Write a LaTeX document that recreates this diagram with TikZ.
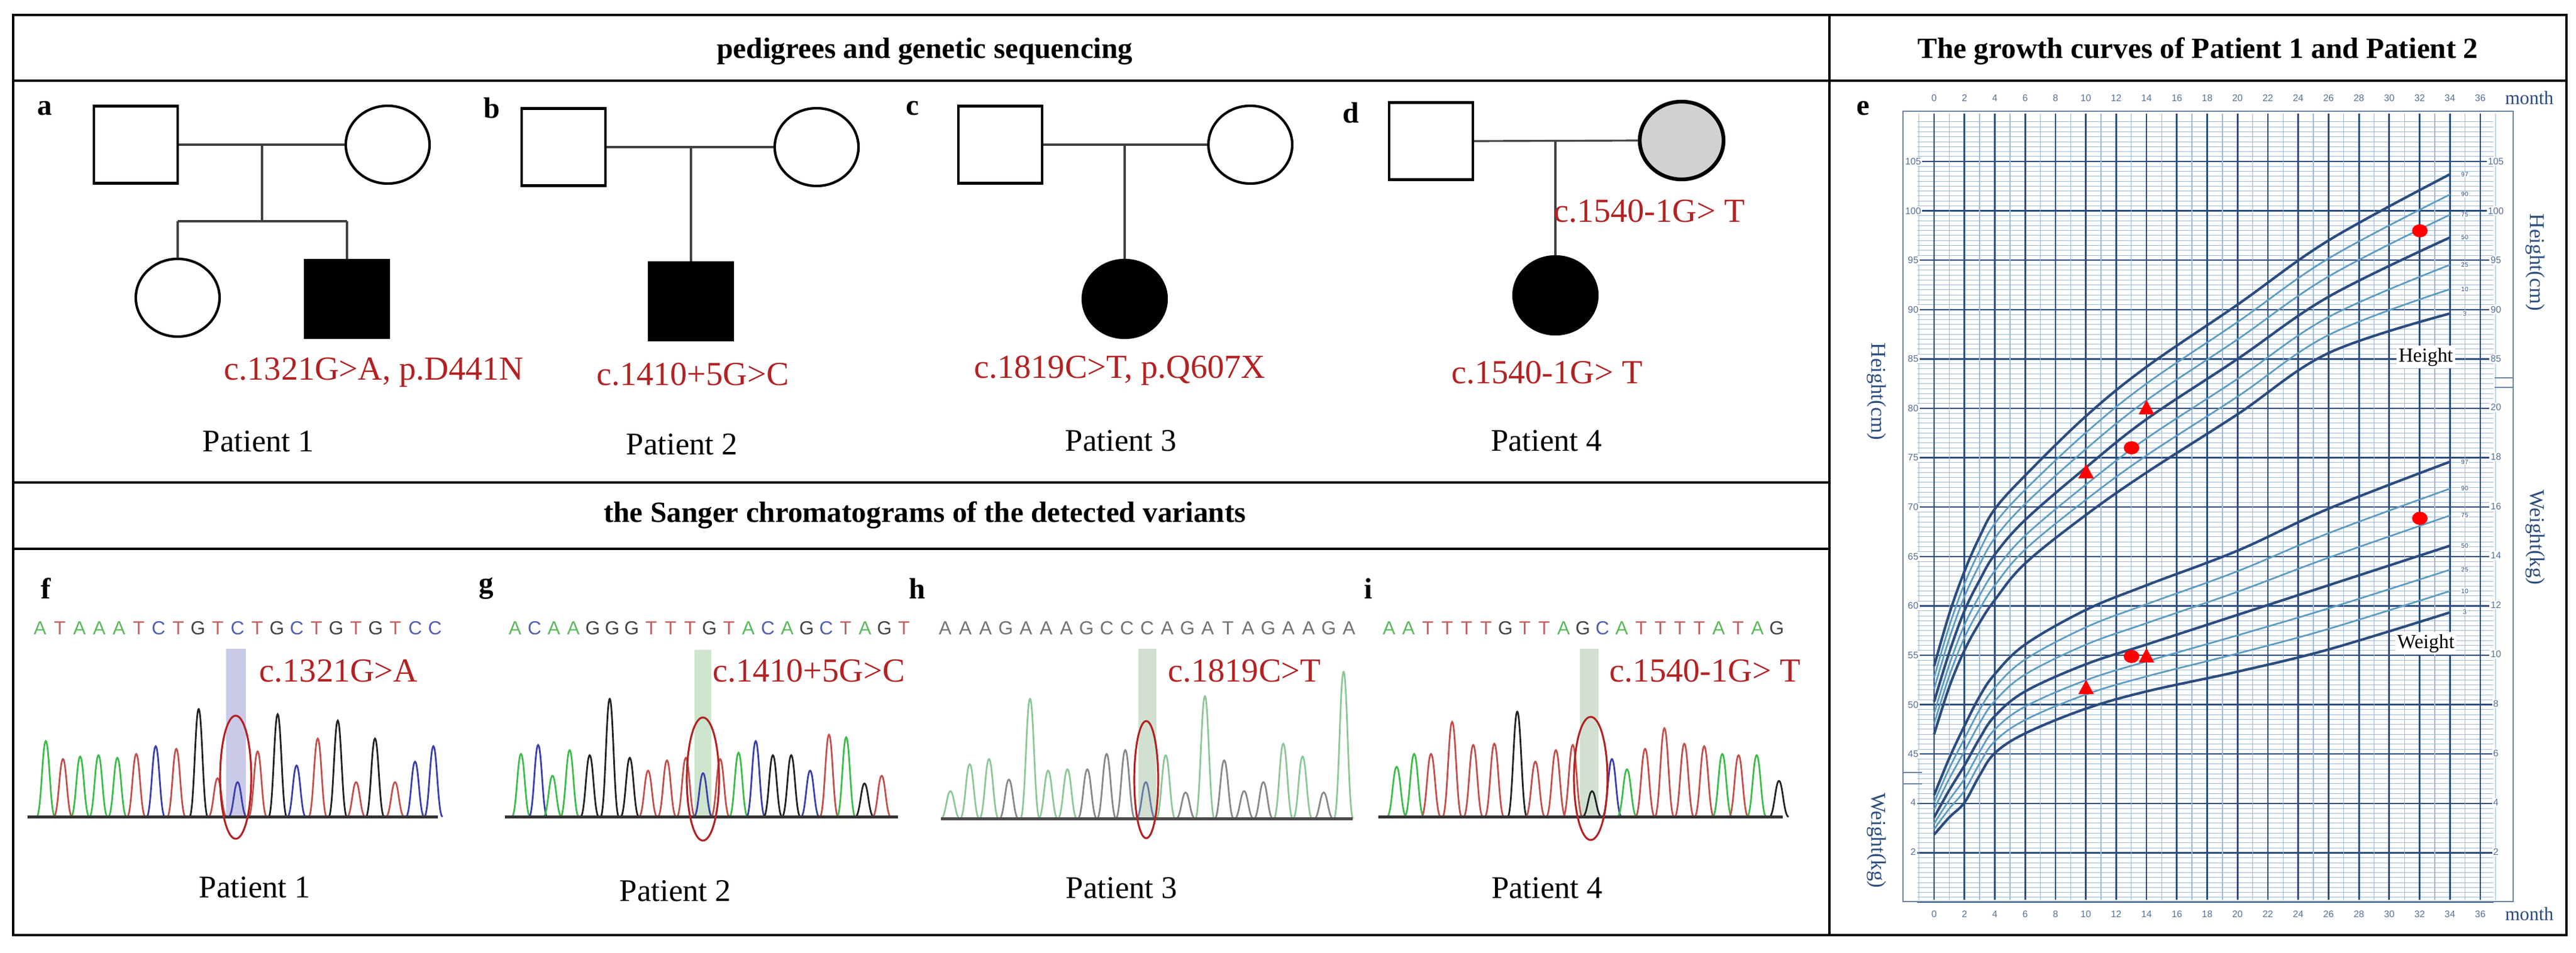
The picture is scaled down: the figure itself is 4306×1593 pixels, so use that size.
\documentclass[tikz,border=0pt]{standalone}
\usepackage{fontspec}
\setmainfont{Liberation Serif}
\newfontfamily\sansf{Liberation Sans}
\usetikzlibrary{shapes.geometric}
\definecolor{vred}{HTML}{B22222}
\definecolor{dkb}{HTML}{2B4C7E}
\definecolor{ltb}{HTML}{9DB8D6}
\definecolor{tlb}{HTML}{5E9CC0}
\definecolor{chG}{HTML}{3DBB4A}
\definecolor{chR}{HTML}{C0504D}
\definecolor{chB}{HTML}{3A3FA8}
\definecolor{chK}{HTML}{222222}
\definecolor{sqA}{HTML}{5CB85C}
\definecolor{sqT}{HTML}{C06060}
\definecolor{sqC}{HTML}{5060B0}
\definecolor{sqG}{HTML}{444444}
\definecolor{hG}{HTML}{8CC896}
\definecolor{hK}{HTML}{888888}
\definecolor{hB}{HTML}{6A78A8}
\tikzset{
 ttl/.style={font=\bfseries\fontsize{14}{16}\selectfont},
 pat/.style={font=\fontsize{15}{17}\selectfont},
 var/.style={text=vred,font=\fontsize{16}{18}\selectfont},
 lab/.style={font=\bfseries\fontsize{14}{16}\selectfont},
 sq/.style={draw,line width=1.2pt,minimum width=1.4cm,minimum height=1.29cm,inner sep=0},
 ci/.style={ellipse,draw,line width=1.2pt,minimum width=1.4cm,minimum height=1.3cm,inner sep=0},
 ln/.style={line width=0.9pt,black!75},
 seq/.style={font=\sansf\fontsize{9}{9}\selectfont},
 tk/.style={font=\sansf\fontsize{4.5}{5}\selectfont,text=dkb!80},
 mk/.style={fill=red,draw=none},
}
\newcommand\pk[4]{\draw[#4,line width=0.8] (#1-16,#3) .. controls (#1-8,#3) and (#1-6,#2) .. (#1,#2) .. controls (#1+6,#2) and (#1+8,#3) .. (#1+16,#3);}
\newcommand\HP[4]{({3233+25.36*#1},{270+(105-(#3+\f*((\f>0)?(#4-#3):(#3-#2))))*16.52})}
\newcommand\WP[4]{({3233+25.36*#1},{681.5+(20-(#3+\f*((\f>0)?(#4-#3):(#3-#2))))*41.3})}
\begin{document}
\begin{tikzpicture}[x=0.01cm,y=-0.01cm]
\useasboundingbox (0,0) rectangle (4306,1593);
\fill[white] (0,0) rectangle (4306,1593);
% frame
\draw[line width=1.3pt] (22,25) rectangle (4290,1564);
\draw[line width=1.3pt] (3058,25) -- (3058,1564);
\draw[line width=1.3pt] (22,135) -- (4290,135);
\draw[line width=1.3pt] (22,807) -- (3058,807);
\draw[line width=1.3pt] (22,918) -- (3058,918);
\node[ttl] (t1) at (1546,86) {pedigrees and genetic sequencing};
\node[ttl] (t2) at (1546,862) {the Sanger chromatograms of the detected variants};
\node[ttl] (t3) at (3674,86) {The growth curves of Patient 1 and Patient 2};
% ---------- pedigrees
\node[lab] (la) at (75,181) {a};
\node[lab] (lb) at (822,181) {b};
\node[lab] (lc) at (1525,181) {c};
\node[lab] (ld) at (2258,189) {d};
% a
\node[sq] (F1) at (227,242) {};
\node[ci] (M1) at (648,242) {};
\node[ci] (S1) at (297,498) {};
\node[sq,fill=black] (P1) at (580,500) {};
\draw[ln] (F1.east) -- (M1.west);
\coordinate (a1) at (438,242); \coordinate (a2) at (438,370);
\coordinate (a3) at (297,370); \coordinate (a4) at (580,370);
\draw[ln] (a1) -- (a2); \draw[ln] (a3) -- (a4);
\draw[ln] (a3) -- (S1.north); \draw[ln] (a4) -- (P1.north);
\node[var] (v1) at (625,623) {c.1321G>A, p.D441N};
\node[pat] (n1) at (432,738) {Patient 1};
% b
\node[sq] (F2) at (942,246) {};
\node[ci] (M2) at (1365,246) {};
\node[sq,fill=black] (P2) at (1155,504) {};
\draw[ln] (F2.east) -- (M2.west);
\coordinate (b1) at (1155,246);
\draw[ln] (b1) -- (P2.north);
\node[var] (v2) at (1158,626) {c.1410+5G>C};
\node[pat] (n2) at (1140,743) {Patient 2};
% c
\node[sq] (F3) at (1672,242) {};
\node[ci] (M3) at (2090,242) {};
\node[ci,fill=black] (P3) at (1880,500) {};
\draw[ln] (F3.east) -- (M3.west);
\coordinate (c1) at (1880,242);
\draw[ln] (c1) -- (P3.north);
\node[var] (v3) at (1872,620) {c.1819C>T, p.Q607X};
\node[pat] (n3) at (1874,737) {Patient 3};
% d
\node[sq] (F4) at (2392,236) {};
\node[ci,fill=black!18,line width=1.8pt] (M4) at (2811,235) {};
\node[ci,fill=black] (P4) at (2600,494) {};
\draw[ln] (F4.east) -- (M4.west);
\coordinate (d1) at (2600,236);
\draw[ln] (d1) -- (P4.north);
\node[var] (v4) at (2757,353) {c.1540-1G> T};
\node[var] (v5) at (2586,623) {c.1540-1G> T};
\node[pat] (n4) at (2585,737) {Patient 4};
% ---------- chromatograms
\node[lab] (lf) at (77,984) {f};
\node[lab] (lg) at (813,984) {g};
\node[lab] (lh) at (1533,984) {h};
\node[lab] (li) at (2287,984) {i};
% highlights
\fill[blue!40!gray!30] (378,1085) rectangle (411,1366);
\fill[green!30!gray!30] (1161,1087) rectangle (1189,1366);
\fill[green!20!gray!30] (1903,1085) rectangle (1933,1370);
\fill[green!20!gray!30] (2641,1085) rectangle (2672,1366);
% sequences
\foreach \c [count=\i] in {A,T,A,A,A,T,C,T,G,T,C,T,G,C,T,G,T,G,T,C,C}
  \node[seq,text=sq\c] (sf\i) at ({67+(\i-1)*33},1051) {\c};
\foreach \c [count=\i] in {A,C,A,A,G,G,G,T,T,T,G,T,A,C,A,G,C,T,A,G,T}
  \node[seq,text=sq\c] (sg\i) at ({861+(\i-1)*32.5},1051) {\c};
\foreach \c [count=\i] in {A,A,A,G,A,A,A,G,C,C,C,A,G,A,T,A,G,A,A,G,A}
  \node[seq,text=black!55] (sh\i) at ({1580+(\i-1)*33.75},1051) {\c};
\foreach \c [count=\i] in {A,A,T,T,T,T,G,T,T,A,G,C,A,T,T,T,T,A,T,A,G}
  \node[seq,text=sq\c] (si\i) at ({2322+(\i-1)*32.4},1051) {\c};
% peaks f,g
\begin{scope}[shift={(0,920)},xscale=0.957,yscale=0.429]
\foreach \x/\t/\c in {80/745/G,110/815/R,140/805/G,172/800/G,205/810/G,238/795/R,272/765/B,308/775/R,347/620/K,380/890/R,415/905/B,450/785/R,485/640/K,518/840/B,555/735/R,590/665/K,622/905/R,655/735/K,690/905/R,725/825/B,757/765/B}
  \pk{\x}{\t}{1040}{draw=ch\c};
\draw[line width=1.4,black!80] (48,1040) -- (765,1040);
\foreach \x/\t/\c in {910/795/G,940/760/B,965/880/G,995/780/G,1030/800/K,1065/580/K,1100/810/K,1132/860/R,1165/820/R,1198/810/R,1228/870/B,1258/815/R,1290/790/G,1320/745/B,1350/800/K,1382/800/K,1415/860/B,1448/720/R,1478/730/G,1510/910/K,1540/880/R}
  \pk{\x}{\t}{1040}{draw=ch\c};
\draw[line width=1.4,black!80] (882,1040) -- (1568,1040);
\end{scope}
\begin{scope}[shift={(1500,920)},xscale=1.008,yscale=0.429]
\foreach \x/\t/\c in {88/940/G,120/835/G,152/815/G,185/895/K,220/580/G,250/860/G,282/855/G,315/855/K,347/795/K,378/780/K,412/905/B,445/800/G,478/945/K,510/570/G,542/820/K,575/940/K,607/905/K,640/755/G,672/805/G,707/945/K,740/475/G}
  \pk{\x}{\t}{1048}{draw=h\c};
\draw[line width=1.4,black!70] (72,1048) -- (755,1048);
\foreach \x/\t/\c in {828/845/G,857/795/G,885/795/R,920/670/R,955/760/R,990/755/R,1028/630/K,1058/825/R,1092/780/R,1120/760/R,1152/940/K,1185/815/B,1210/855/G,1240/775/R,1272/695/R,1305/755/R,1338/765/R,1368/795/G,1395/800/R,1425/800/G,1462/900/K}
  \pk{\x}{\t}{1040}{draw=ch\c};
\draw[line width=1.4,black!80] (798,1040) -- (1468,1040);
\end{scope}
% ellipses
\draw[vred,line width=0.9] (394,1300) ellipse [x radius=26,y radius=103];
\draw[vred,line width=0.9] (1175,1303) ellipse [x radius=27,y radius=103];
\draw[vred,line width=0.9] (1916,1304) ellipse [x radius=20,y radius=98];
\draw[vred,line width=0.9] (2659,1302) ellipse [x radius=28,y radius=103];
\node[var] (w1) at (566,1122) {c.1321G>A};
\node[var] (w2) at (1352,1122) {c.1410+5G>C};
\node[var] (w3) at (2080,1122) {c.1819C>T};
\node[var] (w4) at (2850,1122) {c.1540-1G> T};
\node[pat] (m1) at (426,1484) {Patient 1};
\node[pat] (m2) at (1129,1490) {Patient 2};
\node[pat] (m3) at (1875,1485) {Patient 3};
\node[pat] (m4) at (2586,1485) {Patient 4};
% ---------- growth chart
\node[lab] (le) at (3114,181) {e};
\foreach \h in {30,30.5,...,109}
  \draw[ltb,line width=0.25] (3205,{270+(105-\h)*16.52}) -- (4168,{270+(105-\h)*16.52});
\foreach \h in {30,35,...,105}
  \draw[dkb,line width=0.7] (3205,{270+(105-\h)*16.52}) -- (4168,{270+(105-\h)*16.52});
\foreach \m in {-1,...,37}
  \draw[ltb,line width=0.4] ({3233+25.36*\m},190) -- ({3233+25.36*\m},1505);
\foreach \m in {0,2,...,36}
  \draw[dkb,line width=0.8] ({3233+25.36*\m},190) -- ({3233+25.36*\m},1505);
\draw[dkb!70,line width=0.8] (3181,186) rectangle (4201,1508);
\draw[dkb!70,line width=0.6] (3181,1292) -- (3213,1292) (3181,1311) -- (3213,1311);
\draw[dkb!70,line width=0.6] (4170,632) -- (4201,632) (4170,648) -- (4201,648);
\foreach \m in {0,2,...,36} {
  \node[tk] at ({3233+25.36*\m},164) {\m};
  \node[tk] at ({3233+25.36*\m},1529) {\m};}
\node[font=\fontsize{9}{10}\selectfont,text=dkb] (mo1) at (4228,164) {month};
\node[font=\fontsize{9}{10}\selectfont,text=dkb] (mo2) at (4228,1529) {month};
\foreach \h in {45,50,...,105}
  \node[tk,fill=white,inner sep=0.5] at (3198,{270+(105-\h)*16.52}) {\h};
\foreach \h in {85,90,...,105}
  \node[tk,fill=white,inner sep=0.5] at (4172,{270+(105-\h)*16.52}) {\h};
\foreach \w in {2,4,...,20}
  \node[tk,fill=white,inner sep=0.5] at (4172,{681.5+(20-\w)*41.3}) {\w};
\foreach \w in {2,4}
  \node[tk,fill=white,inner sep=0.5] at (3198,{681.5+(20-\w)*41.3}) {\w};
\node[rotate=-90,font=\fontsize{10}{11}\selectfont,text=dkb] (ax1) at (3137,655) {Height(cm)};
\node[rotate=-90,font=\fontsize{10}{11}\selectfont,text=dkb] (ax2) at (3137,1406) {Weight(kg)};
\node[rotate=-90,font=\fontsize{10}{11}\selectfont,text=dkb] (ax3) at (4238,439) {Height(cm)};
\node[rotate=-90,font=\fontsize{10}{11}\selectfont,text=dkb] (ax4) at (4238,899) {Weight(kg)};
% curves
\foreach \f/\st/\lw/\pl in {1/dkb/1.2/97,0.68/tlb/0.8/90,0.36/tlb/0.8/75,0/dkb/1.2/50,-0.36/tlb/0.8/25,-0.68/tlb/0.8/10,-1/dkb/1.2/3} {
 \draw[\st,line width=\lw] plot[smooth,tension=0.6] coordinates {\HP{0}{47.0}{50.3}{53.9} \HP{1}{51.8}{55.3}{59.2} \HP{2}{55.5}{59.5}{63.5} \HP{3}{58.3}{62.6}{67.0} \HP{4}{60.6}{65.2}{69.8} \HP{6}{64.3}{68.7}{73.2} \HP{10}{69.2}{74.0}{79.2} \HP{14}{73.5}{78.9}{84.2} \HP{20}{79.4}{85.0}{90.5} \HP{26}{85.6}{91.3}{97.0} \HP{34}{89.6}{97.3}{103.7}};
 \draw[\st,line width=\lw] plot[smooth,tension=0.6] coordinates {\WP{0}{2.7}{3.4}{4.3} \WP{1}{3.4}{4.5}{5.8} \WP{2}{4.0}{5.5}{7.1} \WP{3}{5.1}{6.6}{8.3} \WP{4}{6.0}{7.5}{9.2} \WP{6}{6.8}{8.5}{10.4} \WP{10}{7.8}{9.6}{11.8} \WP{14}{8.5}{10.4}{12.8} \WP{20}{9.3}{11.6}{14.2} \WP{26}{10.2}{12.8}{15.9} \WP{34}{11.7}{14.4}{17.8}};
 \node[font=\sansf\fontsize{3}{3}\selectfont,text=dkb,fill=white,inner sep=0.3] at (4120,{270+(105-(97.3+\f*((\f>0)?(6.4):(7.7))))*16.52}) {\pl};
 \node[font=\sansf\fontsize{3}{3}\selectfont,text=dkb,fill=white,inner sep=0.3] at (4120,{681.5+(20-(14.4+\f*((\f>0)?(3.4):(2.7))))*41.3}) {\pl};
}
\node[font=\fontsize{9.5}{10}\selectfont,fill=white,inner sep=1] (hl) at (4055,597) {Height};
\node[font=\fontsize{9.5}{10}\selectfont,fill=white,inner sep=1] (wl) at (4055,1076) {Weight};
% markers
\fill[mk] (3563,749) ellipse [x radius=13,y radius=11];
\fill[mk] (4045,386) ellipse [x radius=13,y radius=11];
\fill[mk] (3563,1098) ellipse [x radius=13,y radius=11];
\fill[mk] (4045,867) ellipse [x radius=13,y radius=11];
\fill[mk] (3474,800) -- (3500,800) -- (3487,776) -- cycle;
\fill[mk] (3575,693) -- (3601,693) -- (3588,669) -- cycle;
\fill[mk] (3474,1161) -- (3500,1161) -- (3487,1137) -- cycle;
\fill[mk] (3575,1108) -- (3601,1108) -- (3588,1084) -- cycle;
\end{tikzpicture}
\end{document}
